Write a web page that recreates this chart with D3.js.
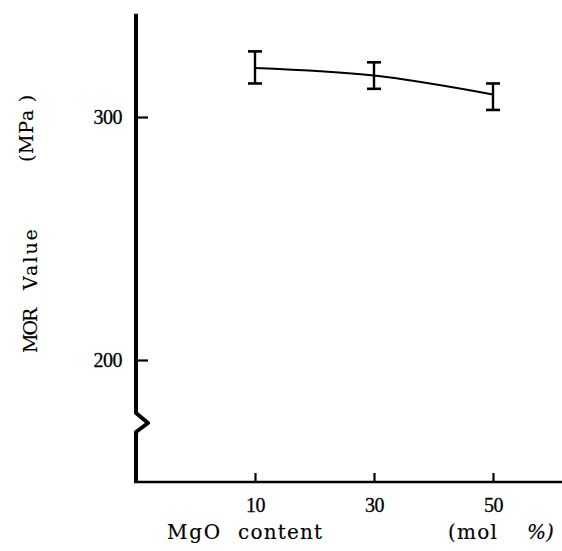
<!DOCTYPE html>
<html>
<head>
<meta charset="utf-8">
<script src="https://cdn.jsdelivr.net/npm/d3@7"></script>
<style>
  html, body { margin: 0; padding: 0; background: #fff; }
  svg { display: block; }
  text { font-family: "Liberation Serif", "DejaVu Serif", serif; fill: #000; stroke: #000; stroke-width: 0.3px; }
  text.title { font-family: "DejaVu Serif", "Liberation Serif", serif; stroke-width: 0.15px; }
</style>
</head>
<body>
<svg id="chart" width="562" height="551"></svg>
<script>
// ---- data ----
const mgoContent = [10, 30, 50];          // mol %
const morMean    = [320.2, 317.1, 309.3]; // MPa
const morHigh    = [327.0, 322.5, 313.8];
const morLow     = [313.8, 311.6, 302.9];
const xTicks = [10, 30, 50];
const yTicks = [200, 300];

const svg = d3.select("#chart");

// scales
const x = d3.scaleLinear().domain([10, 50]).range([255, 493]);
const y = d3.scaleLinear().domain([200, 300]).range([360, 117]);

const axisX = 136;       // y-axis position
const axisBottom = 482;  // x-axis position
const axisTop = y(342.5);

// ---- y axis (ticks inward, labels left) ----
const gy = svg.append("g").attr("transform", `translate(${axisX},0)`)
  .call(d3.axisLeft(y).tickValues(yTicks).tickSize(-12).tickPadding(14).tickFormat(d3.format("d")));
gy.select(".domain").remove();
gy.selectAll(".tick line").attr("stroke", "#000").attr("stroke-width", 2.2);
gy.selectAll(".tick text").attr("font-size", 20).attr("letter-spacing", -0.5);

// ---- x axis (ticks upward) ----
const gx = svg.append("g").attr("transform", `translate(0,${axisBottom})`)
  .call(d3.axisBottom(x).tickValues(xTicks).tickSize(-9).tickPadding(16).tickFormat(d3.format("d")));
gx.select(".domain").remove();
gx.selectAll(".tick line").attr("stroke", "#000").attr("stroke-width", 2.2);
gx.selectAll(".tick text").attr("font-size", 20).attr("letter-spacing", -0.5);

// ---- axis lines with break ----
const brk0 = 413, brkMid = 423, brk1 = 432;
svg.append("path")
  .attr("d", `M${axisX},${axisTop} L${axisX},${brk0} L${axisX + 12},${brkMid} L${axisX},${brk1} L${axisX},${axisBottom}`)
  .attr("fill", "none").attr("stroke", "#000").attr("stroke-width", 4).attr("stroke-linejoin", "round");
svg.append("path")
  .attr("d", `M${axisX - 2},${axisBottom} L562,${axisBottom}`)
  .attr("fill", "none").attr("stroke", "#000").attr("stroke-width", 2.6);

// ---- curve ----
const pts = mgoContent.map((d, i) => [d, morMean[i]]);
svg.append("path")
  .datum(pts)
  .attr("d", d3.line().x(d => x(d[0])).y(d => y(d[1])).curve(d3.curveNatural))
  .attr("fill", "none").attr("stroke", "#000").attr("stroke-width", 2);

// ---- error bars ----
const capW = 7;
const eb = svg.append("g").selectAll("g").data(mgoContent).join("g");
eb.append("line")
  .attr("x1", d => x(d)).attr("x2", d => x(d))
  .attr("y1", (d, i) => y(morHigh[i])).attr("y2", (d, i) => y(morLow[i]))
  .attr("stroke", "#000").attr("stroke-width", 2.4);
eb.append("line")
  .attr("x1", d => x(d) - capW).attr("x2", d => x(d) + capW)
  .attr("y1", (d, i) => y(morHigh[i])).attr("y2", (d, i) => y(morHigh[i]))
  .attr("stroke", "#000").attr("stroke-width", 2.6);
eb.append("line")
  .attr("x1", d => x(d) - capW).attr("x2", d => x(d) + capW)
  .attr("y1", (d, i) => y(morLow[i])).attr("y2", (d, i) => y(morLow[i]))
  .attr("stroke", "#000").attr("stroke-width", 2.6);

// ---- axis titles ----
svg.append("text").attr("class", "title").attr("x", 167).attr("y", 539).attr("font-size", 20)
  .attr("letter-spacing", 1.7).text("MgO");
svg.append("text").attr("class", "title").attr("x", 238).attr("y", 539).attr("font-size", 20)
  .attr("letter-spacing", 1.2).text("content");
svg.append("text").attr("class", "title").attr("x", 448).attr("y", 539).attr("font-size", 20)
  .attr("letter-spacing", 1.2).text("(mol");
svg.append("text").attr("class", "title").attr("x", 527).attr("y", 539).attr("font-size", 20)
  .attr("font-style", "italic").text("%)");

svg.append("text").attr("class", "title").attr("transform", "translate(37,353) rotate(-90)")
  .attr("font-size", 19).attr("letter-spacing", -2).text("MOR");
svg.append("text").attr("class", "title").attr("transform", "translate(37,290) rotate(-90)")
  .attr("font-size", 19).attr("letter-spacing", 2).text("Value");
svg.append("text").attr("class", "title").attr("transform", "translate(33,162) rotate(-90)")
  .attr("font-size", 19).attr("letter-spacing", 0.7).text("(MPa )");
</script>
</body>
</html>
